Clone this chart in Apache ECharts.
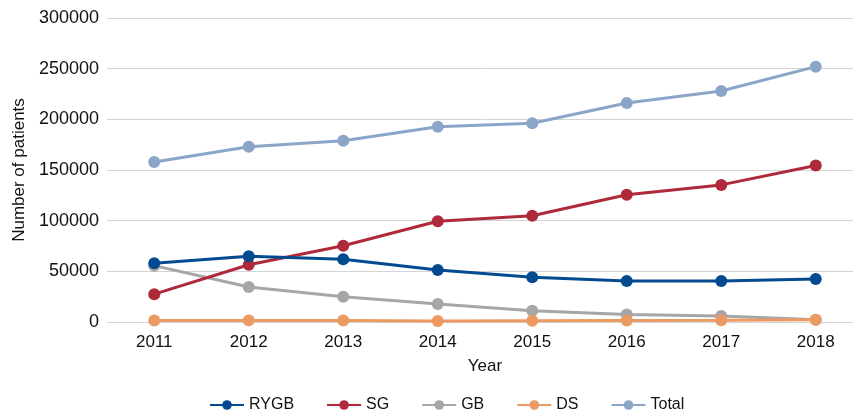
<!DOCTYPE html>
<html><head><meta charset="utf-8">
<script src="https://cdn.jsdelivr.net/npm/echarts@6/dist/echarts.min.js"></script>
<style>html,body{margin:0;padding:0;background:#fff}#c{width:853px;height:415px}</style>
</head><body><div id="c"></div>
<script>
const years = ['2011','2012','2013','2014','2015','2016','2017','2018'];
const rygb  = [57900, 65000, 61900, 51300, 44200, 40500, 40500, 42500];
const sg    = [27500, 56500, 75300, 99400, 104900, 125500, 135300, 154500];
const gb    = [55600, 34500, 25000, 17800, 11200, 7500, 6000, 2200];
const ds    = [1500, 1600, 1500, 1000, 1300, 1500, 1700, 2300];
const total = [157900, 173000, 178900, 192700, 196100, 216200, 228000, 252000];
const yTicks = [0, 50000, 100000, 150000, 200000, 250000, 300000];

const font = 'Liberation Sans, Arial, Helvetica, sans-serif';
function mk(name, data, color) {
  return { name, type: 'line', data, symbol: 'circle', symbolSize: 12,
    itemStyle: { color }, lineStyle: { color, width: 3 }, z: name === 'Total' ? 2 : 3 };
}
const chart = echarts.init(document.getElementById('c'));
chart.setOption({
  animation: false,
  textStyle: { fontFamily: font },
  grid: { left: 107, width: 756, top: 18, bottom: 93, outerBoundsMode: 'none', containLabel: false },
  legend: {
    top: 392, left: 204, itemWidth: 34, itemHeight: 12, itemGap: 32,
    textStyle: { fontFamily: font, fontSize: 16, color: '#111' },
    data: ['RYGB', 'SG', 'GB', 'DS', 'Total']
  },
  xAxis: {
    type: 'category', data: years, boundaryGap: true,
    name: 'Year', nameLocation: 'middle', nameGap: 36,
    nameTextStyle: { fontFamily: font, fontSize: 17, color: '#111' },
    axisLine: { show: false }, axisTick: { show: false },
    axisLabel: { fontFamily: font, fontSize: 17, color: '#111', margin: 12 }
  },
  yAxis: {
    type: 'value', min: 0, max: 300000, interval: 50000,
    name: 'Number of patients', nameLocation: 'middle', nameGap: 79, nameRotate: 90,
    nameTextStyle: { fontFamily: font, fontSize: 17, color: '#111' },
    axisLine: { show: false }, axisTick: { show: false },
    axisLabel: { fontFamily: font, fontSize: 18, color: '#111', margin: 8,
      formatter: v => yTicks.includes(v) ? String(v) : '' },
    splitLine: { lineStyle: { color: '#d4d4d4', width: 1 } }
  },
  series: [
    mk('Total', total, '#8aa5c8'),
    mk('GB', gb, '#a6a6a6'),
    mk('DS', ds, '#eb9a62'),
    mk('SG', sg, '#ae2a3b'),
    mk('RYGB', rygb, '#034a91')
  ]
});
</script></body></html>
